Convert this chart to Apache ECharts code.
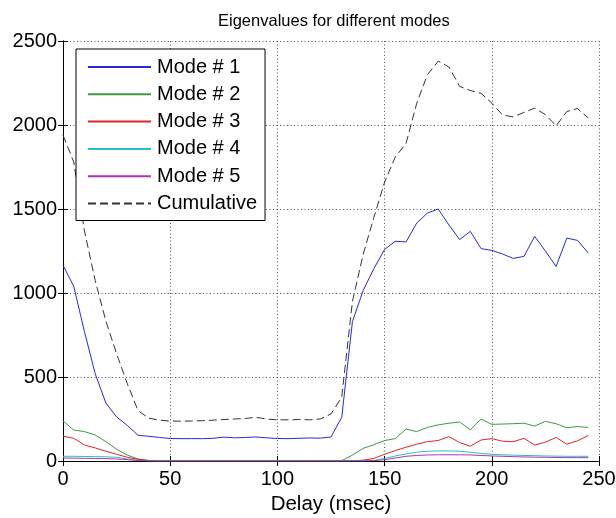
<!DOCTYPE html>
<html>
<head>
<meta charset="utf-8">
<script src="https://cdn.jsdelivr.net/npm/echarts@6/dist/echarts.min.js"></script>
<style>
  html, body { margin: 0; padding: 0; background: #fff; }
  #chart { width: 616px; height: 518px; }
</style>
</head>
<body>
<div id="chart"></div>
<script>
// delay axis (msec)
var delay = [0, 5, 10, 15, 20, 25, 30, 35, 40, 45, 50, 55, 60, 65, 70, 75, 80, 85, 90, 95,
  100, 105, 110, 115, 120, 125, 130, 135, 140, 145, 150, 155, 160, 165, 170, 175, 180, 185, 190, 195,
  200, 205, 210, 215, 220, 225, 230, 235, 240, 245];

var mode1 = [1165, 1040, 770, 520, 345, 262, 212, 153, 147, 140, 134, 133, 133, 133, 135, 142, 138, 140, 143, 138,
  134, 133, 135, 137, 136, 143, 260, 830, 1015, 1145, 1260, 1308, 1304, 1417, 1476, 1500, 1405, 1318, 1367, 1264,
  1254, 1232, 1206, 1218, 1337, 1250, 1158, 1327, 1313, 1238];
var mode2 = [238, 185, 175, 155, 115, 70, 35, 12, 3, 1, 1, 1, 1, 1, 1, 1, 1, 1, 1, 1,
  1, 1, 1, 1, 1, 1, 2, 35, 75, 97, 122, 133, 190, 175, 200, 215, 225, 232, 185, 250,
  218, 220, 222, 225, 208, 236, 222, 198, 205, 200];
var mode3 = [148, 135, 95, 78, 58, 40, 22, 10, 3, 1, 1, 1, 1, 1, 1, 1, 1, 1, 1, 1,
  1, 1, 1, 1, 1, 1, 1, 1, 5, 15, 40, 62, 82, 100, 115, 122, 145, 110, 88, 125,
  133, 118, 115, 135, 95, 112, 140, 100, 120, 152];
var mode4 = [28, 28, 27, 26, 25, 22, 12, 3, 1, 1, 1, 1, 1, 1, 1, 1, 1, 1, 1, 1,
  1, 1, 1, 1, 1, 1, 1, 1, 1, 3, 15, 30, 42, 52, 58, 60, 60, 58, 52, 45,
  40, 37, 35, 33, 32, 30, 29, 28, 28, 28];
var mode5 = [18, 17, 16, 15, 14, 12, 8, 3, 1, 1, 1, 1, 1, 1, 1, 1, 1, 1, 1, 1,
  1, 1, 1, 1, 1, 1, 1, 1, 1, 2, 8, 18, 28, 33, 36, 37, 37, 37, 36, 33,
  30, 28, 26, 24, 23, 22, 21, 20, 20, 20];
var cumulative = [1940, 1780, 1370, 1075, 833, 638, 460, 300, 255, 243, 238, 237, 238, 240, 243, 247, 250, 253, 260, 250,
  245, 245, 247, 245, 250, 280, 380, 950, 1230, 1450, 1660, 1810, 1890, 2130, 2300, 2380, 2345, 2230, 2205, 2188,
  2130, 2060, 2048, 2075, 2100, 2062, 1995, 2080, 2098, 2042];

var names = ['Mode # 1', 'Mode # 2', 'Mode # 3', 'Mode # 4', 'Mode # 5', 'Cumulative'];
var colors = ['#2a2ad2', '#3f983f', '#e02424', '#22c2c2', '#b030b8', '#333333'];
var yTicks = [0, 500, 1000, 1500, 2000, 2500];

function pairs(ys) {
  var out = [];
  for (var i = 0; i < delay.length; i++) out.push([delay[i], ys[i]]);
  return out;
}

var font = "'Liberation Sans', Arial, sans-serif";
var allData = [mode1, mode2, mode3, mode4, mode5, cumulative];
var seriesArr = [];
for (let i = 0; i < allData.length; i++) {
  seriesArr.push({
    name: names[i],
    type: 'line',
    symbol: 'none',
    data: pairs(allData[i]),
    lineStyle: { color: colors[i], width: 1, type: i === 5 ? [8, 4] : 'solid' },
    itemStyle: { color: colors[i] },
    z: i === 5 ? 3 : 2
  });
}

var boxAxisLine = { show: true, lineStyle: { color: '#000', width: 1 } };
var inTick = { show: true, inside: true, length: 5, lineStyle: { color: '#000' } };

var option = {
  backgroundColor: '#fff',
  animation: false,
  title: {
    text: 'Eigenvalues for different modes',
    left: 213, top: 8,
    textStyle: { fontFamily: font, fontSize: 16.5, fontWeight: 'normal', color: '#000' }
  },
  legend: {
    data: names,
    orient: 'vertical',
    left: 76, top: 49,
    itemWidth: 63, itemHeight: 14, itemGap: 7.3,
    padding: [8, 8, 7, 11],
    borderColor: '#000', borderWidth: 1,
    backgroundColor: '#fff',
    itemStyle: { opacity: 0 },
    textStyle: { fontFamily: font, fontSize: 20, color: '#000', padding: [0, 0, 0, 1] }
  },
  grid: { left: 63, right: 17, top: 41, bottom: 57, outerBoundsMode: 'none' },
  xAxis: [{
    type: 'value', min: 0, max: 250, interval: 50,
    name: 'Delay (msec)', nameLocation: 'middle', nameGap: 28,
    nameTextStyle: { fontFamily: font, fontSize: 20.5, color: '#000' },
    axisLine: boxAxisLine, axisTick: inTick,
    axisLabel: { fontFamily: font, fontSize: 20, color: '#000', margin: 8 },
    splitLine: { show: true, lineStyle: { color: '#555', type: [1, 2.5], width: 1 } }
  }, {
    type: 'value', min: 0, max: 250, interval: 50, position: 'top',
    axisLine: boxAxisLine, axisTick: inTick,
    axisLabel: { show: false }, splitLine: { show: false }
  }],
  yAxis: [{
    type: 'value', min: 0, max: 2500, interval: 500,
    axisLine: boxAxisLine, axisTick: inTick,
    axisLabel: {
      fontFamily: font, fontSize: 20, color: '#000', margin: 6,
      formatter: function (v) { return yTicks.indexOf(v) >= 0 ? String(v) : ''; }
    },
    splitLine: { show: true, lineStyle: { color: '#555', type: [1, 2.5], width: 1 } }
  }, {
    type: 'value', min: 0, max: 2500, interval: 500, position: 'right',
    axisLine: boxAxisLine, axisTick: inTick,
    axisLabel: { show: false }, splitLine: { show: false }
  }],
  series: seriesArr
};

var myChart = echarts.init(document.getElementById('chart'), null, { renderer: 'canvas' });
myChart.setOption(option);
</script>
</body>
</html>
